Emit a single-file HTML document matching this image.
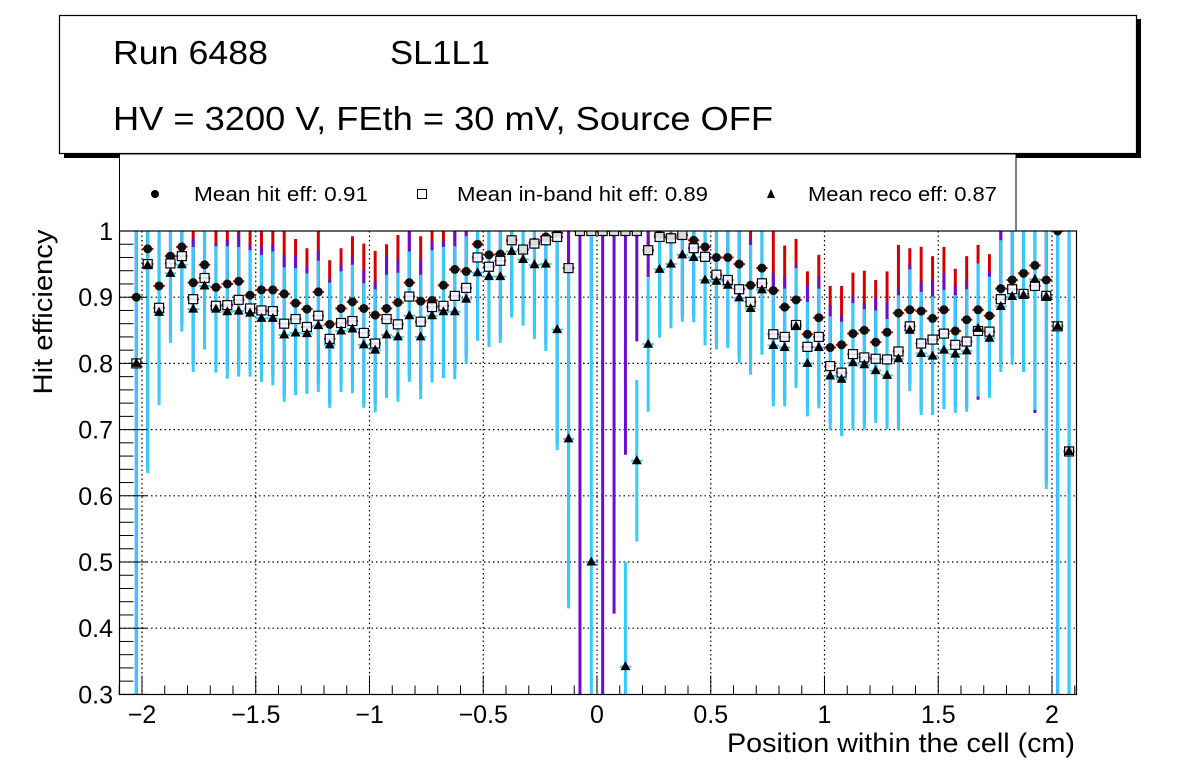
<!DOCTYPE html>
<html><head><meta charset="utf-8">
<style>
html,body{margin:0;padding:0;background:#fff;overflow:hidden;width:1196px;height:772px;}
svg{display:block;font-family:"Liberation Sans",Arial,sans-serif;}
</style></head>
<body>
<svg id="chart" width="1196" height="772" viewBox="0 0 1196 772" xmlns="http://www.w3.org/2000/svg">
  <defs><clipPath id="frameClip"><rect x="119.5" y="231" width="957" height="463.5"/></clipPath></defs>
  <rect x="0" y="0" width="1196" height="772" fill="#fff"/>
  <g>
    <rect x="64" y="19" width="1077" height="139" fill="#000"/>
    <rect x="59.5" y="15.5" width="1077" height="138" fill="#fff" stroke="#000" stroke-width="1.2"/>
    <text x="113" y="64" font-size="33" textLength="155" lengthAdjust="spacingAndGlyphs">Run 6488</text>
    <text x="390" y="64" font-size="33" textLength="100" lengthAdjust="spacingAndGlyphs">SL1L1</text>
    <text x="113" y="130" font-size="33" textLength="660" lengthAdjust="spacingAndGlyphs">HV = 3200 V, FEth = 30 mV, Source OFF</text>
  </g>
  <g>
    <rect x="119.5" y="154" width="896.5" height="77" fill="#fff" stroke="#000" stroke-width="1"/>
    <g>
      <circle cx="155" cy="194" r="4" fill="#000"/>
      <text x="194" y="201" font-size="20" textLength="174" lengthAdjust="spacingAndGlyphs">Mean hit  eff: 0.91</text>
    </g>
    <g>
      <rect x="417.5" y="189.5" width="9" height="9" fill="none" stroke="#000" stroke-width="1"/>
      <text x="457" y="201" font-size="20" textLength="251" lengthAdjust="spacingAndGlyphs">Mean in-band hit eff: 0.89</text>
    </g>
    <g>
      <polygon points="771,189 775,198 767,198" fill="#000"/>
      <text x="808" y="201" font-size="20" textLength="189" lengthAdjust="spacingAndGlyphs">Mean reco eff: 0.87</text>
    </g>
  </g>
  <rect x="119.5" y="231" width="957" height="463.5" fill="#fff"/>
  <g id="grid"></g>
  <g id="series" clip-path="url(#frameClip)"></g>
  <rect x="119.5" y="231" width="957" height="463.5" fill="none" stroke="#000" stroke-width="1.2"/>
  <g id="axes"></g>
  <text transform="translate(52,312) rotate(-90)" text-anchor="middle" font-size="27" textLength="165" lengthAdjust="spacingAndGlyphs">Hit efficiency</text>
  <text x="1075" y="752" text-anchor="end" font-size="27" textLength="348" lengthAdjust="spacingAndGlyphs">Position within the cell (cm)</text>
</svg>
<script>
const binStart = -2.025, binWidth = 0.05;
const xTicks = [-2, -1.5, -1, -0.5, 0, 0.5, 1, 1.5, 2];
const xTickLabels = ["\u22122", "\u22121.5", "\u22121", "\u22120.5", "0", "0.5", "1", "1.5", "2"];
const yTicks = [0.3, 0.4, 0.5, 0.6, 0.7, 0.8, 0.9, 1];
const yTickLabels = ["0.3", "0.4", "0.5", "0.6", "0.7", "0.8", "0.9", "1"];
const hitEff = [.900,.973,.917,.962,.976,.922,.949,.915,.920,.924,.903,.911,.911,.905,.891,.882,.908,.859,.883,.893,.883,.873,.883,.892,.922,.894,.895,.918,.942,.939,.980,.964,.965,.986,.972,.983,.991,.997,.944,1,1,1,1,1,1,.971,.994,.991,.994,.986,.976,.960,.960,.950,.918,.944,.910,.885,.896,.844,.869,.824,.828,.845,.850,.832,.847,.876,.881,.879,.868,.881,.849,.866,.881,.872,.913,.926,.936,.948,.926,1.0,.667];
const hitHi = [1,1,1,1,1,1,1,1,1,1,1,1,1,1,.988,.974,1,.956,.974,.992,.981,.970,.980,.994,1,.992,1,1,1,1,1,1,1,1,1,1,1,1,1,1,1,1,1,1,1,1,1,1,1,1,1,1,1,1,1,1,1,.978,.988,.939,.964,.917,.917,.937,.940,.926,.939,.979,.974,.976,.962,.976,.943,.962,.979,.965,1,1,1,1,1,1,1];
const inbandEff = [.800,.950,.884,.951,.962,.897,.929,.887,.888,.896,.883,.880,.879,.860,.867,.855,.872,.837,.861,.864,.846,.830,.867,.859,.901,.863,.885,.887,.902,.914,.960,.946,.955,.986,.972,.981,.986,.991,.944,1,1,1,1,1,1,.971,.991,.989,.994,.974,.961,.934,.926,.912,.893,.921,.844,.840,.858,.825,.840,.796,.786,.814,.809,.807,.806,.818,.856,.830,.836,.845,.828,.833,.849,.848,.897,.912,.905,.917,.902,.856,.667];
const inbandHi = [1,1,1,1,1,.989,1,.981,.986,.997,.979,.976,.979,.964,.962,.946,.971,.927,.949,.961,.941,.923,.962,.957,1,.957,.985,.985,1,1,1,1,1,1,1,1,1,1,1,1,1,1,1,1,1,1,1,1,1,1,1,1,1,1,.991,1,.936,.931,.949,.918,.931,.888,.872,.902,.891,.899,.893,.913,.949,.923,.927,.936,.918,.924,.951,.939,1,1,1,1,1,1,1];
const inbandLo = [.2,.64,.75,.84,.86,.80,.83,.80,.79,.79,.79,.78,.78,.75,.76,.76,.77,.74,.77,.77,.74,.74,.76,.75,.78,.76,.78,.79,.79,.81,.84,.84,.84,.88,.87,.85,.83,.68,.44,0,.9,0,.422,.662,.833,.93,.85,.86,.87,.87,.84,.83,.83,.81,.79,.82,.745,.745,.77,.73,.74,.71,.70,.71,.71,.72,.71,.71,.77,.73,.73,.74,.735,.735,.745,.76,.795,.81,.795,.725,.62,.2,.2];
const recoEff = [.800,.948,.877,.936,.949,.882,.917,.882,.878,.879,.876,.868,.868,.843,.846,.845,.857,.828,.849,.852,.828,.820,.843,.840,.872,.840,.872,.878,.878,.897,.937,.931,.931,.969,.957,.949,.950,.851,.686,null,.500,null,null,.342,.653,.829,.942,.950,.964,.960,.926,.924,.918,.899,.883,.911,.827,.824,.856,.800,.824,.781,.776,.801,.798,.789,.782,.807,.850,.815,.811,.820,.814,.819,.853,.838,.886,.901,.903,.927,.901,.856,.667];
const recoLo = [.2,.634,.737,.831,.848,.787,.821,.786,.777,.780,.780,.772,.767,.742,.752,.754,.757,.733,.757,.755,.733,.726,.748,.742,.772,.746,.771,.778,.776,.799,.834,.825,.831,.869,.857,.837,.819,.669,.43,null,0,null,null,0,.531,.727,.839,.853,.863,.862,.827,.821,.823,.801,.783,.813,.735,.735,.763,.72,.732,.70,.69,.70,.70,.71,.70,.70,.758,.722,.722,.731,.725,.727,.75,.748,.787,.798,.787,.73,.61,.2,.2];
const recoHi = [1,1,1,1,1,.976,1,.977,.977,.976,.971,.964,.969,.945,.944,.936,.955,.922,.939,.949,.921,.912,.934,.937,.969,.934,.971,.976,.977,.992,1,1,1,1,1,1,1,1,.944,null,1,null,null,.50,.775,.929,1,1,1,1,1,1,1,1,.979,1,.913,.913,.944,.893,.913,.871,.863,.891,.882,.880,.867,.903,.942,.908,.901,.911,.903,.912,.951,.931,.986,1,1,1,1,1,1];

const NS = "http://www.w3.org/2000/svg";
function X(v){ return 597 + 227.5*v; }
function Y(v){ return 231 + (1 - v)*662; }
function mk(tag, attrs, parent){
  const e = document.createElementNS(NS, tag);
  for (const k in attrs) e.setAttribute(k, attrs[k]);
  parent.appendChild(e); return e;
}
const grid = document.getElementById('grid');
const axes = document.getElementById('axes');
const series = document.getElementById('series');

xTicks.forEach(function(t){
  const l = mk('line', {x1:X(t), x2:X(t), y1:231, y2:694.5, stroke:'#000', 'stroke-width':1.2, 'stroke-dasharray':'1.5 3'}, grid);
  
  
});
yTicks.forEach(function(t){
  if (t <= 0.3 || t >= 1) return;
  const l = mk('line', {x1:119.5, x2:1076.5, y1:Y(t), y2:Y(t), stroke:'#000', 'stroke-width':1.2, 'stroke-dasharray':'1.5 3'}, grid);
  
  
});
for (let i = -21; i <= 21; i++){
  const v = i/10; const major = (i % 5 === 0);
  mk('line', {x1:X(v), x2:X(v), y1:694.5, y2:694.5-(major?19:9), stroke:'#000', 'stroke-width':1}, axes);
}
xTicks.forEach(function(t, i){
  const tx = mk('text', {x:X(t), y:723, 'text-anchor':'middle', 'font-size':25}, axes);
  tx.textContent = xTickLabels[i];
  
  
});
for (let i = 0; i <= 35; i++){
  const v = 0.3 + i*0.02; const major = (i % 5 === 0);
  mk('line', {x1:119.5, x2:119.5+(major?28:14), y1:Y(v), y2:Y(v), stroke:'#000', 'stroke-width':1}, axes);
}
yTicks.forEach(function(t, i){
  const tx = mk('text', {x:113, y:Y(t)+9, 'text-anchor':'end', 'font-size':25}, axes);
  tx.textContent = yTickLabels[i];
  
  
});

function cx(k){ return X(binStart + binWidth*k); }
const n = hitEff.length;
for (let k = 0; k < n; k++){
  const x = cx(k);
  const r = mk('line', {x1:x, x2:x, y1:Y(hitHi[k]), y2:Y(hitEff[k]), stroke:'#d40000', 'stroke-width':3}, series);
  
  
}
for (let k = 0; k < n; k++){
  const x = cx(k);
  const p = mk('line', {x1:x, x2:x, y1:Y(inbandHi[k]), y2:Y(inbandLo[k]), stroke:'#6a0dd0', 'stroke-width':3}, series);
  
  
}
for (let k = 0; k < n; k++){
  if (recoLo[k] === null) continue;
  const x = cx(k);
  const c = mk('line', {x1:x, x2:x, y1:Y(recoHi[k]), y2:Y(recoLo[k]), stroke:'#33ccff', 'stroke-width':3}, series);
  
  
}
for (let k = 0; k < n; k++){
  const x = cx(k);
  mk('line', {x1:x-5.7, x2:x+5.7, y1:Y(hitEff[k]), y2:Y(hitEff[k]), stroke:'#d40000', 'stroke-width':2}, series);
  mk('line', {x1:x-5.7, x2:x+5.7, y1:Y(inbandEff[k]), y2:Y(inbandEff[k]), stroke:'#6a0dd0', 'stroke-width':2}, series);
  if (recoEff[k] !== null) mk('line', {x1:x-5.7, x2:x+5.7, y1:Y(recoEff[k]), y2:Y(recoEff[k]), stroke:'#33ccff', 'stroke-width':2}, series);
}
for (let k = 0; k < n; k++){
  const m = mk('circle', {cx:cx(k), cy:Y(hitEff[k]), r:4.5, fill:'#111'}, series);
  
  
}
for (let k = 0; k < n; k++){
  const x = cx(k), y = Y(inbandEff[k]);
  const m = mk('rect', {x:x-4.5, y:y-4.5, width:9, height:9, fill:'#fff', 'fill-opacity':0.85, stroke:'#000', 'stroke-width':1.2}, series);
  
  
}
for (let k = 0; k < n; k++){
  if (recoEff[k] === null) continue;
  const x = cx(k), y = Y(recoEff[k]);
  const m = mk('polygon', {points:(x)+','+(y-5.5)+' '+(x+5)+','+(y+3.5)+' '+(x-5)+','+(y+3.5), fill:'#000'}, series);
  
  
}
</script>
</body></html>
